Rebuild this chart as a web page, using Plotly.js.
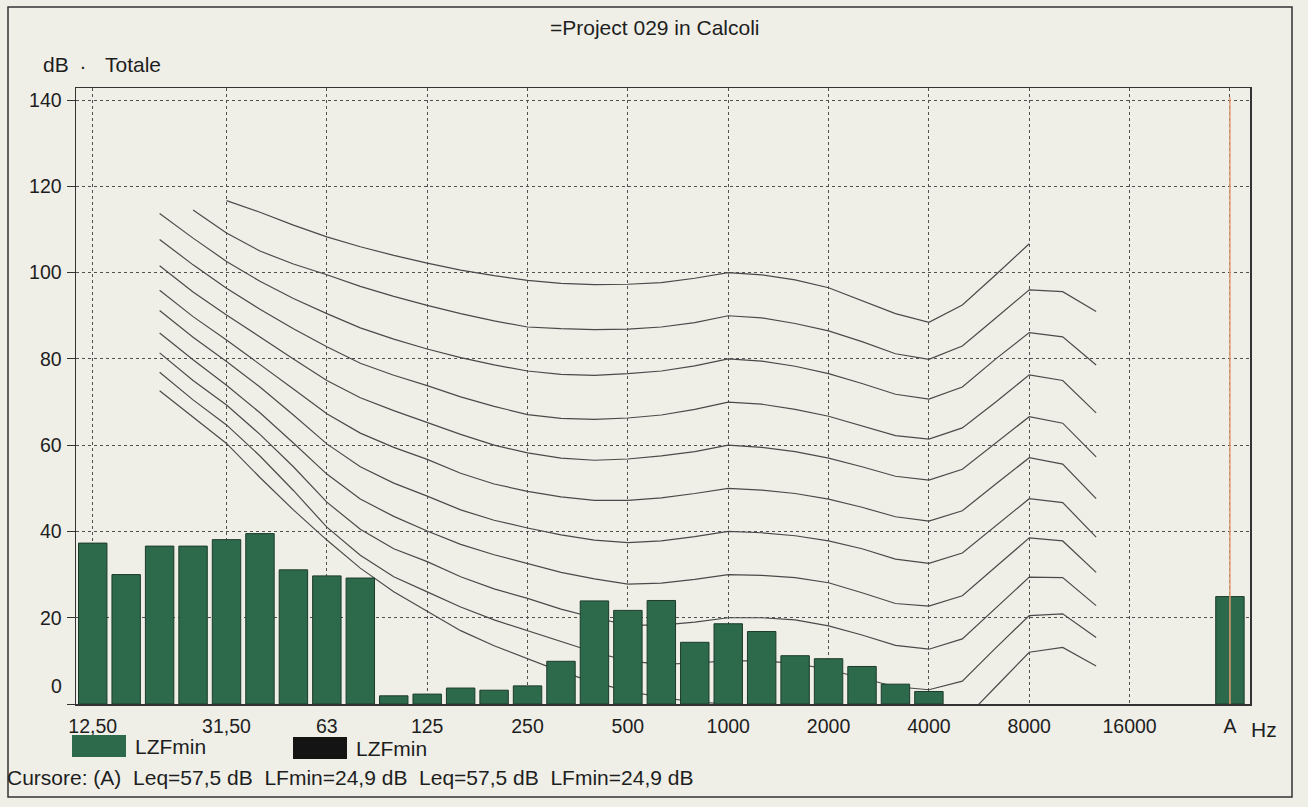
<!DOCTYPE html>
<html><head><meta charset="utf-8">
<script src="https://cdn.plot.ly/plotly-3.0.1.min.js"></script>
<style>body{margin:0;background:#efefe8}</style>
</head><body><div id="chart" style="width:1308px;height:807px"></div>
<script>
// x categories (1/3 octave bands + total A)
const bands = ['12,5','16','20','25','31,5','40','50','63','80','100','125','160','200','250','315','400','500','630','800','1000','1250','1600','2000','2500','3150','4000','5000','6300','8000','10000','12500','16000','20000',' ','A'];
const tickCats = ['12,5','31,5','63','125','250','500','1000','2000','4000','8000','16000','A'];
const tickLabels = ['12,50','31,50','63','125','250','500','1000','2000','4000','8000','16000','A'];
const yTicks = [0,20,40,60,80,100,120,140];

// measured spectrum LZFmin
const barBands = ['12,5','16','20','25','31,5','40','50','63','80','100','125','160','200','250','315','400','500','630','800','1000','1250','1600','2000','2500','3150','4000','A'];
const lzfmin = [37.3,30.0,36.6,36.6,38.1,39.5,31.1,29.7,29.2,1.9,2.3,3.7,3.2,4.2,9.9,23.9,21.7,24.0,14.3,18.6,16.8,11.2,10.5,8.7,4.6,2.9,24.9];

// equal-loudness contour curves (dB) at bands 20 Hz .. 12500 Hz
const curveBands = ['20','25','31,5','40','50','63','80','100','125','160','200','250','315','400','500','630','800','1000','1250','1600','2000','2500','3150','4000','5000','6300','8000','10000','12500'];
const c100 = [null,null,116.7,114.0,111.0,108.3,106.0,104.0,102.2,100.6,99.3,98.2,97.5,97.2,97.3,97.7,98.7,100.0,99.5,98.3,96.5,93.5,90.5,88.5,92.5,99.5,106.7,null,null];
const c90  = [null,114.5,109.2,105.0,102.0,99.5,96.8,94.5,92.4,90.5,88.8,87.4,87.0,86.8,86.9,87.4,88.4,90.0,89.5,88.2,86.5,84.0,81.2,79.9,83.0,89.5,96.0,95.6,91.0];
const c80  = [113.7,108.0,102.6,98.0,94.0,90.5,87.2,84.6,82.3,80.3,78.6,77.2,76.4,76.2,76.6,77.2,78.4,80.0,79.5,78.3,76.6,74.3,71.8,70.7,73.5,80.0,86.1,85.1,78.6];
const c70  = [107.7,101.8,96.4,91.5,87.0,82.8,79.0,76.2,73.8,71.2,69.0,67.1,66.2,66.0,66.3,67.0,68.3,70.0,69.5,68.3,66.7,64.5,62.2,61.4,64.0,70.0,76.3,75.0,67.5];
const c60  = [101.6,95.5,90.2,85.0,80.0,75.0,71.0,68.0,65.3,62.5,60.0,58.2,57.0,56.5,56.8,57.5,58.5,60.0,59.5,58.5,57.0,55.0,52.8,51.9,54.4,60.5,66.6,65.1,57.3];
const c50  = [95.9,89.8,84.4,78.8,73.0,67.3,62.8,59.5,56.7,53.5,51.0,49.3,48.0,47.2,47.2,47.8,48.8,50.0,49.6,48.8,47.5,45.6,43.4,42.4,44.8,51.0,57.1,55.6,47.6];
const c40  = [91.2,85.0,79.4,73.5,67.0,60.3,55.0,51.2,48.2,45.0,42.6,40.8,39.2,38.0,37.4,37.8,38.8,40.0,39.7,39.0,37.8,36.0,33.6,32.6,35.0,41.3,47.6,46.7,38.7];
const c30  = [86.0,79.8,73.9,67.5,60.5,53.3,47.5,43.5,40.1,37.0,34.6,32.5,30.5,29.0,27.8,28.0,28.9,30.0,29.8,29.3,28.1,25.8,23.3,22.7,25.1,31.8,38.5,37.8,30.5];
const c20  = [81.4,75.0,69.3,62.5,55.0,46.8,40.5,36.0,33.0,29.5,26.7,24.5,22.0,20.0,18.3,18.3,19.0,20.0,20.0,19.5,18.1,16.0,13.6,12.7,15.1,22.3,29.4,29.3,22.8];
const c10  = [76.9,70.5,64.7,57.5,49.5,41.0,34.5,29.5,26.0,22.5,19.5,17.0,14.5,12.0,10.0,9.2,9.5,10.0,10.0,9.4,8.0,6.0,4.0,3.3,5.3,13.0,20.5,20.9,15.4];
const c0   = [72.6,66.5,60.4,52.5,45.0,38.0,31.5,26.0,21.5,17.0,13.5,10.5,7.5,5.0,3.0,1.5,0.5,0.0,-0.5,-1.5,-3.0,-5.0,-7.0,-7.0,-4.0,4.0,12.0,13.1,8.8];
const curves = [c100,c90,c80,c70,c60,c50,c40,c30,c20,c10,c0];

const seriesName = 'LZFmin';
const titleText = '=Project 029 in Calcoli';
const cursorText = 'Cursore: (A)  Leq=57,5 dB  LFmin=24,9 dB  Leq=57,5 dB  LFmin=24,9 dB';

// ---- layout geometry (pixels) ----
const W = 1308, H = 807;
const L = 76, R = 1250, T = 88, B = 704;
const px = x => (x - L) / (R - L);
const py = y => (B - y) / (B - T);

const FONT = 'Arial, "Liberation Sans", sans-serif';
const INK = '#1e1e1e';
const GREEN = '#2d6a4b';
const TXT = 21;
const yRange = [0, 142.8];
const xRange = [-0.5, 34.6];

const traces = curves.map(c => ({
  type: 'scatter', mode: 'lines', x: curveBands, y: c,
  xaxis: 'x', yaxis: 'y', hoverinfo: 'skip', showlegend: false,
  line: {color: '#4a4a4a', width: 1.2}
}));
traces.push({
  type: 'bar', x: barBands, y: lzfmin, name: seriesName, xaxis: 'x2', yaxis: 'y2',
  showlegend: false,
  marker: {color: GREEN, line: {color: '#1d3a2a', width: 1}}
});

const axBase = {
  type: 'category', categoryorder: 'array', categoryarray: bands, range: xRange
};
const layout = {
  width: W, height: H,
  margin: {l: L, r: W - R, t: T, b: H - B},
  paper_bgcolor: '#efefe8', plot_bgcolor: '#efefe8',
  font: {family: FONT, color: INK, size: 19},
  bargap: 0.15, showlegend: false,
  xaxis: Object.assign({}, axBase, {
    tickmode: 'array', tickvals: tickCats, ticktext: tickLabels,
    showgrid: true, gridcolor: '#505050', griddash: 'dot', gridwidth: 1,
    showline: true, mirror: true, linecolor: '#333', linewidth: 1.5,
    ticks: '', ticklabelstandoff: 4, tickfont: {size: 19.5, family: FONT, color: INK},
    zeroline: false, fixedrange: true
  }),
  xaxis2: Object.assign({}, axBase, {overlaying: 'x', visible: false, fixedrange: true}),
  yaxis: {
    range: yRange, tickmode: 'array', tickvals: yTicks,
    ticktext: yTicks.map(v => v === 0 ? '' : String(v)),
    showgrid: true, gridcolor: '#505050', griddash: 'dot', gridwidth: 1,
    showline: true, mirror: true, linecolor: '#333', linewidth: 1.5,
    ticks: 'outside', ticklen: 8, tickcolor: '#333', ticklabelstandoff: 1,
    tickfont: {size: 19.5, family: FONT, color: INK}, zeroline: false, fixedrange: true
  },
  yaxis2: {range: yRange, overlaying: 'y', visible: false, fixedrange: true},
  shapes: [
    // outer frame
    {type: 'rect', xref: 'paper', yref: 'paper', x0: px(8), x1: px(1292), y0: py(797), y1: py(7),
     line: {color: '#333', width: 1.5}, fillcolor: 'rgba(0,0,0,0)', layer: 'below'},
    // cursor on A
    {type: 'line', xref: 'x2', yref: 'paper', x0: 'A', x1: 'A', y0: 0, y1: 0.985,
     line: {color: '#e39a72', width: 1.5}, layer: 'above'},
    // legend swatches
    {type: 'rect', xref: 'paper', yref: 'paper', x0: px(72), x1: px(126), y0: py(757), y1: py(735),
     fillcolor: GREEN, line: {width: 0}},
    {type: 'rect', xref: 'paper', yref: 'paper', x0: px(293), x1: px(347), y0: py(759), y1: py(737),
     fillcolor: '#141414', line: {width: 0}}
  ],
  annotations: [
    {text: titleText, xref: 'paper', yref: 'paper', x: px(655), y: py(27), showarrow: false,
     xanchor: 'center', yanchor: 'middle', font: {size: TXT}},
    {text: 'dB', xref: 'paper', yref: 'paper', x: px(56), y: py(64), showarrow: false,
     xanchor: 'center', yanchor: 'middle', font: {size: TXT}},
    {text: '.', xref: 'paper', yref: 'paper', x: px(83), y: py(61), showarrow: false,
     xanchor: 'center', yanchor: 'middle', font: {size: TXT}},
    {text: 'Totale', xref: 'paper', yref: 'paper', x: px(103), y: py(64), showarrow: false,
     xanchor: 'left', yanchor: 'middle', font: {size: TXT}},
    {text: '0', xref: 'paper', yref: 'y', x: 0, y: 0, yshift: 18, xshift: -12, showarrow: false,
     xanchor: 'right', yanchor: 'middle', font: {size: 19.5}},
    {text: 'Hz', xref: 'paper', yref: 'paper', x: px(1264), y: py(729), showarrow: false,
     xanchor: 'center', yanchor: 'middle', font: {size: TXT}},
    {text: seriesName, xref: 'paper', yref: 'paper', x: px(133), y: py(746), showarrow: false,
     xanchor: 'left', yanchor: 'middle', font: {size: TXT}},
    {text: seriesName, xref: 'paper', yref: 'paper', x: px(354), y: py(748), showarrow: false,
     xanchor: 'left', yanchor: 'middle', font: {size: TXT}},
    {text: cursorText, xref: 'paper', yref: 'paper', x: px(5), y: py(777), showarrow: false,
     xanchor: 'left', yanchor: 'middle', font: {size: TXT}}
  ]
};

Plotly.newPlot('chart', traces, layout, {displayModeBar: false, staticPlot: true});
</script>
</body></html>
